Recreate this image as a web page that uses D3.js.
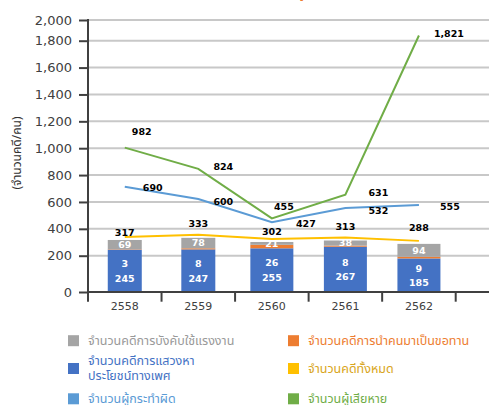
<!DOCTYPE html>
<html>
<head>
<meta charset="utf-8">
<script src="https://cdn.jsdelivr.net/npm/d3@7"></script>
<style>
  body { margin: 0; background: #fff; }
  svg { display: block; }
</style>
</head>
<body>
<div id="chart"></div>
<script>
// data
var years = ["2558", "2559", "2560", "2561", "2562"];
var sexCases = [245, 247, 255, 267, 185];
var beggingCases = [3, 8, 26, 8, 9];
var labourCases = [69, 78, 21, 38, 94];
var totalCases = [317, 333, 302, 313, 288];
var offenders = [690, 600, 427, 532, 555];
var victims = [982, 824, 455, 631, 1821];
var yTicks = [0, 200, 400, 600, 800, 1000, 1200, 1400, 1600, 1800, 2000];

var legendLeft = ["จำนวนคดีการบังคับใช้แรงงาน", "จำนวนคดีการแสวงหา\nประโยชน์ทางเพศ", "จำนวนผู้กระทำผิด"];
var legendRight = ["จำนวนคดีการนำคนมาเป็นขอทาน", "จำนวนคดีทั้งหมด", "จำนวนผู้เสียหาย"];

var width = 489, height = 405;
var thai = "'Noto Sans Thai', 'DejaVu Sans', sans-serif";
var num = "'DejaVu Sans', sans-serif";

var svg = d3.select("#chart")
    .append("svg")
    .attr("width", width)
    .attr("height", height);

// title sits mostly above the visible area
svg.append("text")
    .attr("x", 465)
    .attr("y", -4)
    .attr("text-anchor", "end")
    .attr("font-family", thai)
    .attr("font-size", "20px")
    .attr("font-weight", "bold")
    .attr("fill", "#ed7d31")
    .text("สถิติการดำเนินคดีการค้ามนุษย์ (ปี 2558-2562)");

// scales
var x = d3.scaleBand()
    .domain(years)
    .range([88, 455.7]);

// the axis of the original is stretched below 200
var y = d3.scaleLinear()
    .domain([0, 200, 1800, 2000])
    .range([292, 255.7, 40.7, 20]);

// lines sit a little higher than the bars
var yLine = y.copy().range(y.range().map(r => r - 3));

var barWidth = [34, 34, 43, 43, 43];

// gridlines
svg.append("g")
    .selectAll("line")
    .data(yTicks.filter(d => d > 0))
    .enter()
    .append("line")
    .attr("x1", 88)
    .attr("x2", width)
    .attr("y1", d => y(d))
    .attr("y2", d => y(d))
    .attr("stroke", "#c8c8c8")
    .attr("stroke-width", 2);

// stacked bars
var rows = years.map((yr, i) => ({
    year: yr, sex: sexCases[i], begging: beggingCases[i], labour: labourCases[i]
}));
var keys = ["sex", "begging", "labour"];
var barColors = {sex: "#4472c4", begging: "#ed7d31", labour: "#a5a5a5"};
var stacked = d3.stack().keys(keys)(rows);

svg.append("g")
    .selectAll("g")
    .data(stacked)
    .enter()
    .append("g")
    .attr("fill", d => barColors[d.key])
    .selectAll("rect")
    .data(d => d)
    .enter()
    .append("rect")
    .attr("x", (d, i) => x(d.data.year) + x.bandwidth() / 2 - barWidth[i] / 2)
    .attr("width", (d, i) => barWidth[i])
    .attr("y", d => y(d[1]))
    .attr("height", d => y(d[0]) - y(d[1]));

// labels inside the bars
var inBar = svg.append("g")
    .attr("font-family", num)
    .attr("font-size", "9.5px")
    .attr("font-weight", "bold")
    .attr("fill", "#fff")
    .attr("text-anchor", "middle");

rows.forEach(function(r, i) {
    var cx = x(r.year) + x.bandwidth() / 2;
    var blueMid = (y(0) + y(r.sex)) / 2;
    var grayMid = (y(r.sex + r.begging) + y(r.sex + r.begging + r.labour)) / 2;
    inBar.append("text").attr("x", cx).attr("y", grayMid).attr("dy", "0.35em").text(r.labour);
    inBar.append("text").attr("x", cx).attr("y", blueMid - 7).attr("dy", "0.35em").text(r.begging);
    inBar.append("text").attr("x", cx).attr("y", blueMid + 7.5).attr("dy", "0.35em").text(r.sex);
});

// axes
var yAxis = svg.append("g")
    .attr("transform", "translate(88,0)")
    .call(d3.axisLeft(y).tickValues(yTicks).tickSize(9).tickPadding(7).tickFormat(d3.format(",")));
yAxis.select(".domain").remove();
yAxis.selectAll(".tick line").attr("stroke", "#404040").attr("stroke-width", 2);
yAxis.selectAll(".tick text")
    .attr("font-family", num)
    .attr("font-size", "13px")
    .attr("fill", "#404040");

svg.append("line")
    .attr("x1", 88).attr("x2", 88)
    .attr("y1", y(2000) - 1).attr("y2", 301.7)
    .attr("stroke", "#404040").attr("stroke-width", 2);

svg.append("line")
    .attr("x1", 88).attr("x2", width)
    .attr("y1", y(0)).attr("y2", y(0))
    .attr("stroke", "#404040").attr("stroke-width", 2);

svg.append("g")
    .selectAll("line")
    .data(years)
    .enter()
    .append("line")
    .attr("x1", d => x(d) + x.bandwidth())
    .attr("x2", d => x(d) + x.bandwidth())
    .attr("y1", y(0))
    .attr("y2", y(0) + 9.7)
    .attr("stroke", "#404040")
    .attr("stroke-width", 2);

var xAxis = svg.append("g")
    .attr("transform", `translate(0,${y(0)})`)
    .call(d3.axisBottom(x).tickSize(0).tickPadding(10));
xAxis.select(".domain").remove();
xAxis.selectAll(".tick text")
    .attr("font-family", num)
    .attr("font-size", "11px")
    .attr("fill", "#404040");

// y axis title
svg.append("text")
    .attr("transform", "translate(17,153) rotate(-90)")
    .attr("text-anchor", "middle")
    .attr("dy", "0.35em")
    .attr("font-family", thai)
    .attr("font-size", "12px")
    .attr("fill", "#333")
    .text("(จำนวนคดี/คน)");

// lines
var cxOf = d => x(d) + x.bandwidth() / 2;
var lineSeries = [
    {values: totalCases, color: "#ffc000", nudge: [[0, -4], [0, -11], [0, -7], [0, -11], [0, -13]]},
    {values: offenders, color: "#5b9bd5", nudge: [[28, 1], [25, 3], [34, 1], [33, 3], [31, 2]]},
    {values: victims, color: "#70ad47", nudge: [[17, -16], [25, -2], [12, -12], [33, -2], [30, -2]]}
];

lineSeries.forEach(function(s) {
    var line = d3.line()
        .x((d, i) => cxOf(years[i]))
        .y(d => yLine(d));
    svg.append("path")
        .datum(s.values)
        .attr("fill", "none")
        .attr("stroke", s.color)
        .attr("stroke-width", 2)
        .attr("d", line);
});

lineSeries.forEach(function(s) {
    svg.append("g")
        .selectAll("text")
        .data(s.values)
        .enter()
        .append("text")
        .attr("x", (d, i) => cxOf(years[i]) + s.nudge[i][0])
        .attr("y", (d, i) => yLine(d) + s.nudge[i][1])
        .attr("dy", "0.35em")
        .attr("text-anchor", "middle")
        .attr("font-family", num)
        .attr("font-size", "9.5px")
        .attr("font-weight", "bold")
        .attr("fill", "#000")
        .text(d => d3.format(",")(d));
});

// legend
var legendItems = [
    {label: legendLeft[0], color: "#a5a5a5", text: "#999999", x: 68, y: 340.7},
    {label: legendLeft[1], color: "#4472c4", text: "#4472c4", x: 68, y: 368.5},
    {label: legendLeft[2], color: "#5b9bd5", text: "#5b9bd5", x: 68, y: 398.8},
    {label: legendRight[0], color: "#ed7d31", text: "#ed7d31", x: 288, y: 340.7},
    {label: legendRight[1], color: "#ffc000", text: "#d9a520", x: 288, y: 368.5},
    {label: legendRight[2], color: "#70ad47", text: "#70ad47", x: 288, y: 398.8}
];

var leg = svg.append("g").selectAll("g")
    .data(legendItems)
    .enter()
    .append("g")
    .attr("transform", d => `translate(${d.x},${d.y})`);

leg.append("rect")
    .attr("x", 0)
    .attr("y", -5.5)
    .attr("width", 11)
    .attr("height", 11)
    .attr("fill", d => d.color);

leg.each(function(d) {
    var lines = d.label.split("\n");
    var t = d3.select(this).append("text")
        .attr("font-family", thai)
        .attr("font-size", "12.5px")
        .attr("fill", d.text);
    lines.forEach(function(ln, k) {
        t.append("tspan")
            .attr("x", 20)
            .attr("y", (k - (lines.length - 1) / 2) * 14.8)
            .attr("dy", "0.35em")
            .text(ln);
    });
});
</script>
</body>
</html>
